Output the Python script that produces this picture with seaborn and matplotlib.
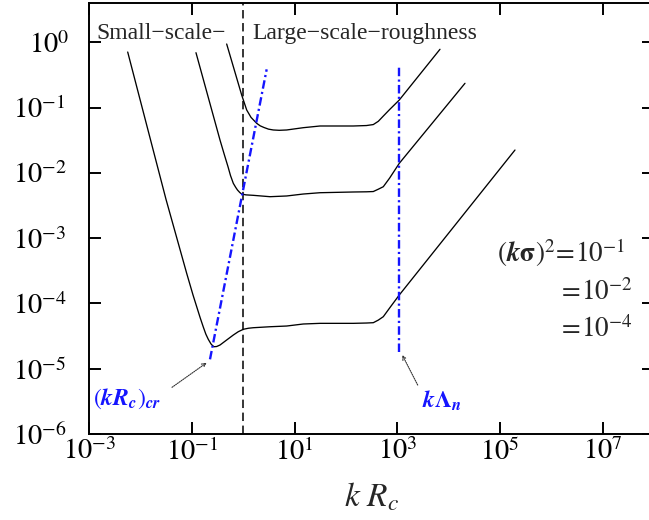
import numpy as np
import pandas as pd
import matplotlib
matplotlib.use("Agg")
import matplotlib.pyplot as plt
import seaborn as sns
from matplotlib.transforms import ScaledTranslation

# ---- data (log10 values) ----
c1_lx = [-0.324, -0.032, 0.066, 0.15, 0.261, 0.33, 0.403, 0.49, 0.584, 0.70, 0.845, 1.168, 1.494, 2.142,
         2.40, 2.532, 2.63, 2.727, 2.85, 3.038, 3.831]
c1_ly = [-0.026, -0.807, -1.037, -1.15, -1.241, -1.28, -1.305, -1.33, -1.343, -1.348, -1.343, -1.308, -1.282, -1.282,
         -1.275, -1.26, -1.21, -1.13, -1.03, -0.884, -0.107]

c2_lx = [-0.922, -0.649, -0.454, -0.37, -0.298, -0.25, -0.195, -0.15, -0.113, -0.07, -0.032, 0.05, 0.194, 0.520,
         0.845, 1.168, 1.494, 2.142, 2.40, 2.532, 2.63, 2.727, 2.85, 3.038, 4.318]
c2_ly = [-0.159, -0.94, -1.497, -1.72, -1.906, -2.04, -2.160, -2.22, -2.263, -2.30, -2.324, -2.337, -2.344, -2.365,
         -2.354, -2.324, -2.304, -2.293, -2.29, -2.286, -2.25, -2.212, -2.08, -1.854, -0.628]

c4_lx = [-2.252, -1.506, -1.103, -0.98, -0.908, -0.84, -0.780, -0.73, -0.682, -0.63, -0.60, -0.571, -0.52, -0.454,
         -0.324, -0.195, -0.098, 0.0, 0.1, 0.194, 0.520, 0.845, 1.168, 1.494, 2.142, 2.40, 2.532, 2.63, 2.727, 2.85,
         3.038, 5.292]
c4_ly = [-0.149, -2.405, -3.539, -3.87, -4.050, -4.22, -4.36, -4.47, -4.55, -4.62, -4.645, -4.663, -4.66, -4.637,
         -4.560, -4.484, -4.433, -4.396, -4.38, -4.372, -4.357, -4.346, -4.315, -4.305, -4.305, -4.30, -4.295, -4.255,
         -4.203, -4.07, -3.871, -1.650]

curve_names = ["1e-1", "1e-2", "1e-4"]

crit_lx = [-0.649, 0.455]      # (kRc)_cr line
crit_ly = [-4.856, -0.414]
lam_lx = [3.03, 3.03]          # k Lambda_n line
lam_ly = [-4.740, -0.374]
sep_x = 1.0                    # small/large scale separation

xticks = [1e-3, 1e-1, 1e1, 1e3, 1e5, 1e7]
xticklabels = [r"$10^{-3}$", r"$10^{-1}$", r"$10^{1}$", r"$10^{3}$", r"$10^{5}$", r"$10^{7}$"]
yticks = [1e-6, 1e-5, 1e-4, 1e-3, 1e-2, 1e-1, 1e0]
yticklabels = [r"$10^{-6}$", r"$10^{-5}$", r"$10^{-4}$", r"$10^{-3}$", r"$10^{-2}$", r"$10^{-1}$", r"$10^{0}$"]

# ---- build frame ----
frames = []
for name, lx, ly in zip(curve_names, [c1_lx, c2_lx, c4_lx], [c1_ly, c2_ly, c4_ly]):
    frames.append(pd.DataFrame({"x": 10 ** np.array(lx), "y": 10 ** np.array(ly), "curve": name}))
df = pd.concat(frames, ignore_index=True)

sns.set_theme(style="ticks")
plt.rcParams.update({
    "font.family": ["Liberation Serif", "DejaVu Serif"],
    "mathtext.fontset": "stix",
    "axes.linewidth": 1.4,
    "axes.edgecolor": "black",
})

fig = plt.figure(figsize=(6.49, 5.2), dpi=100)
ax = fig.add_axes([89.3 / 649, 86 / 520, (654 - 89.3) / 649, 431 / 520])
ax.set_xscale("log")
ax.set_yscale("log")

sns.lineplot(data=df, x="x", y="y", units="curve", estimator=None, sort=False,
             color="black", lw=0.95, ax=ax, legend=False)

ax.axvline(sep_x, color="black", lw=1.1, ls=(0, (5.5, 3.0)))
ax.plot(10 ** np.array(crit_lx), 10 ** np.array(crit_ly), color="#1515ff", lw=1.7,
        ls=(0, (3.6, 1.4, 0.9, 1.4)))
ax.plot(10 ** np.array(lam_lx), 10 ** np.array(lam_ly), color="#1515ff", lw=1.7,
        ls=(0, (3.6, 1.4, 0.9, 1.4)))

ax.set_xlim(1e-3, 1e8)
ax.set_ylim(1e-6, 4.0)
ax.set_xticks(xticks)
ax.set_xticklabels(xticklabels)
ax.set_yticks(yticks)
ax.set_yticklabels(yticklabels)
ax.minorticks_off()
ax.tick_params(which="major", direction="in", top=True, right=True, length=8.6, width=1.4,
               labelsize=20.5, colors="black")
ax.tick_params(axis="x", pad=3)
ax.tick_params(axis="y", pad=54.9)
for lab in ax.get_yticklabels():
    lab.set_horizontalalignment("left")
lab0 = ax.get_yticklabels()[-1]
lab0.set_transform(lab0.get_transform() + ScaledTranslation(0.16, 0, fig.dpi_scale_trans))

ax.set_xlabel(r"$k\ R_c$", fontsize=24, labelpad=11)
ax.set_ylabel("")

# texts
ax.text(10 ** -2.87, 10 ** 0.05, "Small\u2212scale\u2212", fontsize=17, ha="left", va="baseline")
ax.text(10 ** 0.169, 10 ** 0.05, "Large\u2212scale\u2212roughness", fontsize=17, ha="left", va="baseline")

ax.text(10 ** 4.935, 10 ** -3.366, r"$(\mathbfit{k}\mathbf{\sigma})^{2}\!=\!10^{-1}$", fontsize=19.5,
        ha="left", va="baseline")
ax.text(10 ** 6.135, 10 ** -3.948, r"$=\!10^{-2}$", fontsize=19.5, ha="left", va="baseline")
ax.text(10 ** 6.135, 10 ** -4.514, r"$=\!10^{-4}$", fontsize=19.5, ha="left", va="baseline")

ax.text(10 ** -2.928, 10 ** -5.556, r"$(\mathbfit{kR}_{\mathbfit{c}})_{\mathbfit{cr}}$", fontsize=17,
        color="#1515ff", ha="left", va="baseline")
ax.text(10 ** 3.474, 10 ** -5.602, r"$\mathbfit{k}\mathbf{\Lambda}_{\mathbfit{n}}$", fontsize=17,
        color="#1515ff", ha="left", va="baseline")

arrow = dict(arrowstyle="->", linestyle=(0, (1, 1)), color="0.2", lw=0.8, mutation_scale=7,
             shrinkA=0, shrinkB=0)
ax.annotate("", xy=(10 ** -0.713, 10 ** -4.908), xytext=(10 ** -1.389, 10 ** -5.285), arrowprops=arrow)
ax.annotate("", xy=(10 ** 3.097, 10 ** -4.790), xytext=(10 ** 3.397, 10 ** -5.250), arrowprops=arrow)

fig.savefig("out.png", dpi=100)
